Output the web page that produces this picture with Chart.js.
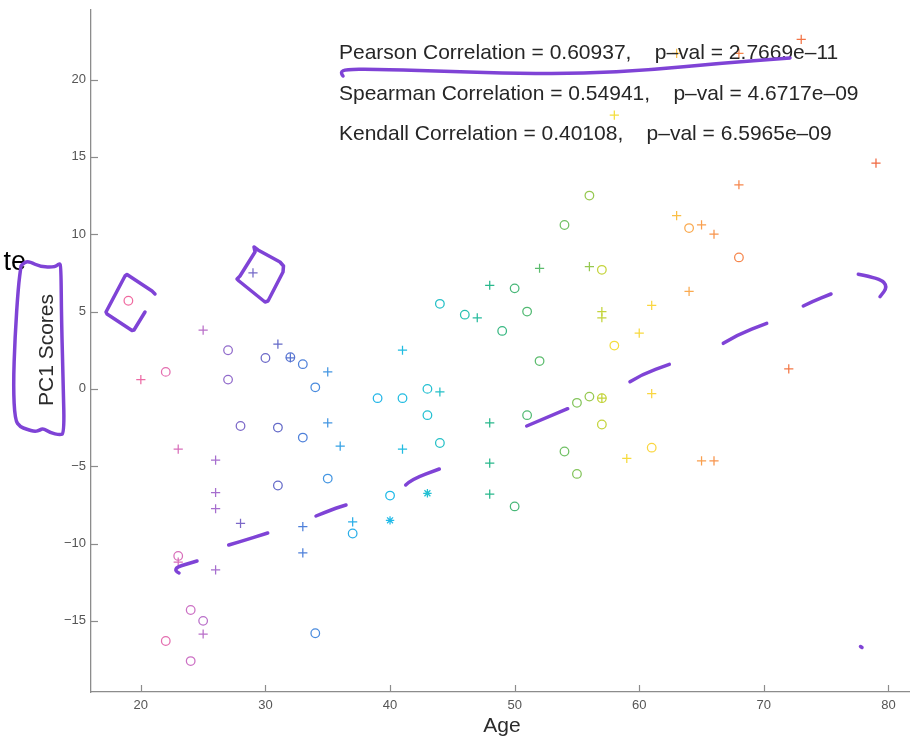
<!DOCTYPE html>
<html>
<head>
<meta charset="utf-8">
<script src="https://cdn.jsdelivr.net/npm/chart.js@4.4.1/dist/chart.umd.min.js"></script>
<style>
  html, body { margin: 0; padding: 0; background: #ffffff; overflow: hidden; }
  #wrap { width: 910px; height: 737px; position: relative; }
  #c { display: block; }
</style>
</head>
<body>
<div id="wrap"><canvas id="c" width="910" height="737"></canvas></div>
<script>
// Subjects plotted with open circles
const circleAge = [19, 22, 22, 23, 24, 24, 25, 27, 27, 28, 30, 31, 31, 32, 33, 33, 34, 34, 35, 37,
  39, 40, 41, 43, 43, 44, 44, 46, 49, 50, 50, 51, 51, 52, 54, 54, 55, 55, 56, 56, 57, 57, 57, 58, 61, 64, 68];
const circleScore = [5.7, 1.1, -16.3, -10.8, -14.3, -17.6, -15.0, 2.5, 0.6, -2.4, 2.0, -2.5, -6.25, 2.05, 1.6, -3.15, 0.1, -15.8, -5.8, -9.35,
  -0.6, -6.9, -0.6, 0.0, -1.7, 5.5, -3.5, 4.8, 3.75, 6.5, -7.6, 5.0, -1.7, 1.8, 10.6, -4.05, -0.9, -5.5, 12.5, -0.5, 7.7, -0.6, -2.3, 2.8, -3.8, 10.4, 8.5];

// Subjects plotted with plus signs
const crossAge = [20, 23, 23, 25, 25, 26, 26, 26, 26, 28, 29, 31, 32, 33, 33, 35, 35, 36, 37, 41,
  41, 44, 47, 48, 48, 48, 48, 52, 56, 57, 57, 57, 58, 59, 60, 61, 61, 63, 63, 64, 65, 65, 66, 66, 68, 68, 72, 73, 79];
const crossScore = [0.6, -3.9, -11.2, 3.8, -15.85, -4.6, -6.7, -7.75, -11.7, -8.7, 7.5, 2.9, 2.0, -8.9, -10.6, 1.1, -2.2, -3.7, -8.6, 2.5,
  -3.9, -0.2, 4.6, 6.7, -2.2, -4.8, -6.8, 7.8, 7.9, 5.0, 4.6, -0.6, 17.7, -4.5, 3.6, 5.4, -0.3, 21.7, 11.2, 6.3, 10.6, -4.65, 10.0, -4.65, 21.7, 13.2, 1.3, 22.6, 14.6];

// Subjects plotted with asterisks
const starAge = [40, 43];
const starScore = [-8.5, -6.75];

// Axes
const xTickValues = [20, 30, 40, 50, 60, 70, 80];
const yTickValues = [-15, -10, -5, 0, 5, 10, 15, 20];
const xTitle = 'Age';
const yTitle = 'PC1 Scores';

// Correlation summary printed in the plot
const statLines = [
  'Pearson Correlation = 0.60937,    p\u2013val = 2.7669e\u201311',
  'Spearman Correlation = 0.54941,    p\u2013val = 4.6717e\u201309',
  'Kendall Correlation = 0.40108,    p\u2013val = 6.5965e\u201309'
];

const FONT = '"Liberation Sans", Arial, Helvetica, sans-serif';

// Colour ramp keyed on age
const ramp = [
  [19, [240, 106, 160]], [22, [228, 110, 176]], [24, [204, 112, 196]], [26, [166, 110, 206]],
  [28, [124, 104, 200]], [31, [100, 106, 200]], [33, [78, 128, 218]], [35, [68, 150, 226]],
  [37, [42, 174, 232]], [40, [32, 186, 232]], [43, [36, 192, 210]], [46, [40, 192, 176]],
  [48, [40, 184, 140]], [50, [72, 184, 120]], [54, [112, 192, 100]], [56, [150, 200, 80]],
  [57, [196, 212, 60]], [58, [244, 222, 60]], [61, [250, 214, 64]], [63, [250, 190, 70]],
  [64, [250, 170, 80]], [66, [248, 148, 76]], [68, [246, 134, 76]], [73, [242, 116, 70]],
  [79, [240, 104, 64]]
];
function ageColor(a) {
  if (a <= ramp[0][0]) return 'rgb(' + ramp[0][1].join(',') + ')';
  for (let i = 1; i < ramp.length; i++) {
    if (a <= ramp[i][0]) {
      const [a0, c0] = ramp[i - 1], [a1, c1] = ramp[i];
      const t = (a - a0) / (a1 - a0);
      return 'rgb(' + c0.map((v, k) => Math.round(v + (c1[k] - v) * t)).join(',') + ')';
    }
  }
  return 'rgb(' + ramp[ramp.length - 1][1].join(',') + ')';
}
const pointColor = ctx => (ctx.raw ? ageColor(ctx.raw.x) : '#000');
const toPoints = (xs, ys) => xs.map((v, i) => ({ x: v, y: ys[i] }));

// Freehand ink strokes over the figure (canvas pixels); smooth = curved pen path
const inkStrokes = [
  { smooth: true, pts: [[343, 76], [340, 72], [346, 69.5], [372, 69], [450, 71.5], [520, 73.5], [583, 73.5], [650, 70], [717, 63.5], [790, 58]] },
  { smooth: false, pts: [[155, 294], [152, 291], [127, 274.5], [125, 276], [106, 312], [107, 314], [132, 330.5], [134, 330], [145, 312]] },
  { smooth: false, pts: [[254, 247], [255, 252], [240, 276], [237, 279], [239, 281], [265, 302], [268, 301], [283, 272], [283.5, 266], [280, 262], [258, 250], [254, 247]] },
  { smooth: true, pts: [[21.7, 265], [25, 261.7], [30, 261.7], [40, 266.7], [55, 267.3], [59.3, 263.3], [61, 266], [61.5, 320], [63.3, 386.7], [64.3, 433.3],
    [60, 435], [50, 432.7], [43.3, 428.3], [40, 430], [35, 431.7], [26.7, 429.3], [20, 426.7], [15, 420], [13.3, 386.7], [15, 336.7], [18.3, 286.7], [21, 266]] },
  { smooth: true, pts: [[179, 573], [175, 571], [177, 567], [187, 564], [197, 561]] },
  { smooth: true, pts: [[228.7, 545], [240, 541.7], [267.7, 533]] },
  { smooth: true, pts: [[316, 516], [333.3, 509], [346, 505]] },
  { smooth: true, pts: [[405.7, 485], [411.7, 479.3], [439.3, 469]] },
  { smooth: true, pts: [[526.7, 426], [567.7, 408.7]] },
  { smooth: true, pts: [[630, 381.7], [641.7, 374.3], [669.3, 364.3]] },
  { smooth: true, pts: [[723.3, 343.3], [736.7, 335], [766.7, 323.3]] },
  { smooth: true, pts: [[803.3, 306], [811.7, 301.7], [831, 294]] },
  { smooth: true, pts: [[858.3, 274.3], [880, 278.3], [887.7, 286.7], [880, 296.7]] },
  { smooth: false, pts: [[860.5, 646.5], [862, 647.5]] }
];

function strokePath(ctx, stroke) {
  const pts = stroke.pts;
  ctx.beginPath();
  ctx.moveTo(pts[0][0], pts[0][1]);
  if (!stroke.smooth || pts.length < 3) {
    for (let i = 1; i < pts.length; i++) ctx.lineTo(pts[i][0], pts[i][1]);
  } else {
    for (let i = 1; i < pts.length - 1; i++) {
      const mx = (pts[i][0] + pts[i + 1][0]) / 2, my = (pts[i][1] + pts[i + 1][1]) / 2;
      ctx.quadraticCurveTo(pts[i][0], pts[i][1], mx, my);
    }
    const last = pts[pts.length - 1];
    ctx.lineTo(last[0], last[1]);
  }
  ctx.stroke();
}

const decorations = {
  id: 'decorations',
  afterDraw(chart) {
    const { ctx, chartArea: a, scales: { x, y } } = chart;
    ctx.save();

    // inward tick marks
    ctx.strokeStyle = '#8c8c8c';
    ctx.lineWidth = 1.2;
    xTickValues.forEach(v => {
      const px = Math.round(x.getPixelForValue(v)) + 0.5;
      ctx.beginPath(); ctx.moveTo(px, a.bottom); ctx.lineTo(px, a.bottom - 7); ctx.stroke();
    });
    yTickValues.forEach(v => {
      const py = Math.round(y.getPixelForValue(v)) + 0.5;
      ctx.beginPath(); ctx.moveTo(a.left, py); ctx.lineTo(a.left + 7, py); ctx.stroke();
    });

    // axis titles
    ctx.fillStyle = '#2b2b2b';
    ctx.font = '21px ' + FONT;
    ctx.textAlign = 'center';
    ctx.textBaseline = 'alphabetic';
    ctx.fillText(xTitle, (a.left + a.right) / 2 + 1.5, 731.5);
    ctx.save();
    ctx.translate(52.5, (a.top + a.bottom) / 2 - 1);
    ctx.rotate(-Math.PI / 2);
    ctx.fillText(yTitle, 0, 0);
    ctx.restore();

    // correlation summary, anchored in data units
    ctx.fillStyle = '#262626';
    ctx.textAlign = 'left';
    const statX = 35.9, statY = [21.35, 18.7, 16.1];
    statLines.forEach((t, i) => ctx.fillText(t, x.getPixelForValue(statX), y.getPixelForValue(statY[i])));

    // leftover handwriting at the page edge
    ctx.fillStyle = '#000000';
    ctx.font = '27px ' + FONT;
    ctx.textAlign = 'right';
    ctx.fillText('te', 26, 270);

    // purple ink
    ctx.strokeStyle = '#7f43d6';
    ctx.lineWidth = 3.5;
    ctx.lineCap = 'round';
    ctx.lineJoin = 'round';
    inkStrokes.forEach(s => strokePath(ctx, s));

    ctx.restore();
  }
};

const common = {
  showLine: false,
  backgroundColor: 'rgba(0,0,0,0)',
  pointBackgroundColor: 'rgba(0,0,0,0)',
  pointBorderColor: pointColor,
  borderColor: pointColor,
  pointBorderWidth: 1.25
};

new Chart(document.getElementById('c'), {
  type: 'scatter',
  data: {
    datasets: [
      Object.assign({ label: 'circle', data: toPoints(circleAge, circleScore), pointStyle: 'circle', pointRadius: 4.3 }, common),
      Object.assign({ label: 'cross', data: toPoints(crossAge, crossScore), pointStyle: 'cross', pointRadius: 4.6 }, common),
      Object.assign({ label: 'star', data: toPoints(starAge, starScore), pointStyle: 'star', pointRadius: 4.2 }, common)
    ]
  },
  options: {
    responsive: false,
    animation: false,
    events: [],
    layout: { autoPadding: false, padding: { top: 10, right: 0, bottom: 0, left: 0 } },
    plugins: { legend: { display: false }, tooltip: { enabled: false } },
    scales: {
      x: {
        type: 'linear',
        min: 16,
        max: 81.73,
        afterBuildTicks: s => { s.ticks = xTickValues.map(v => ({ value: v })); },
        afterFit: s => { s.height = 45; s.paddingLeft = 0; s.paddingRight = 0; },
        ticks: { color: '#555555', font: { family: FONT, size: 13 }, padding: 6, maxRotation: 0, autoSkip: false },
        grid: { display: false, drawTicks: false },
        border: { display: true, color: '#8c8c8c', width: 1.3 }
      },
      y: {
        type: 'linear',
        min: -19.6,
        max: 24.5,
        afterBuildTicks: s => { s.ticks = yTickValues.map(v => ({ value: v })); },
        afterFit: s => { s.width = 91; s.paddingTop = 0; s.paddingBottom = 0; },
        ticks: {
          color: '#555555', font: { family: FONT, size: 13 }, padding: 5, autoSkip: false,
          callback: v => String(v).replace('-', '\u2212')
        },
        grid: { display: false, drawTicks: false },
        border: { display: true, color: '#8c8c8c', width: 1.3 }
      }
    }
  },
  plugins: [decorations]
});
</script>
</body>
</html>
